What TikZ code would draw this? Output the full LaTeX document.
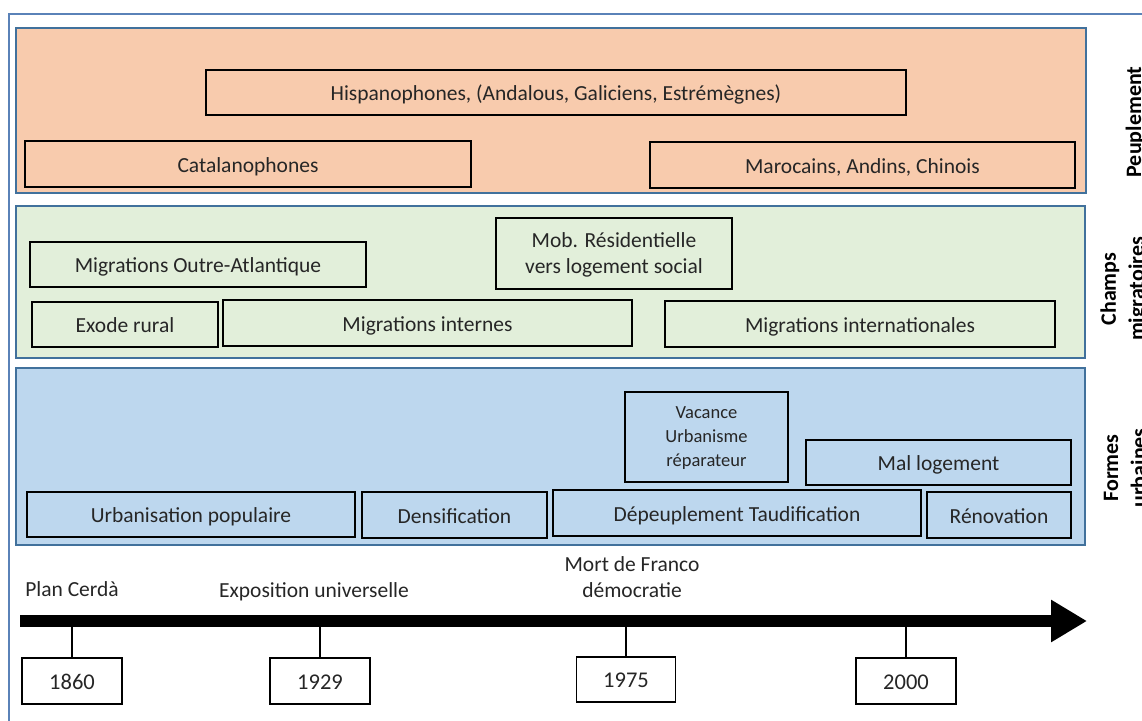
\documentclass[tikz,border=0pt]{standalone}
\usepackage{fontspec}
\setmainfont{Carlito}
\usepackage{xcolor}
\usetikzlibrary{arrows.meta}
\definecolor{peupfill}{HTML}{F8CBAD}
\definecolor{migrfill}{HTML}{E2EFDA}
\definecolor{formfill}{HTML}{BDD7EE}
\definecolor{bandline}{HTML}{41719C}
\definecolor{frameline}{HTML}{5A82B8}
\definecolor{txt}{HTML}{262626}
\begin{document}
\begin{tikzpicture}[x=1pt,y=-1pt,font=\fontsize{21.5}{26}\selectfont,text=txt,
    band/.style={draw=bandline,line width=2.5pt,rectangle,inner sep=0pt},
    tallbox/.style={draw=black,line width=1.8pt,rectangle,inner sep=0pt,align=center,text depth=0pt},
    box/.style={tallbox,text height=18pt,text depth=2pt},
    year/.style={box,fill=white,minimum width=100,minimum height=46,font=\fontsize{22.5}{26}\selectfont},
    side/.style={rotate=90,font=\fontsize{22}{28}\selectfont\bfseries,text=black,align=center}]
            \useasboundingbox (0,0) rectangle (1142,720);
            \fill[white] (0,0) rectangle (1142,720);
            \draw[frameline,line width=2pt] (9,14) rectangle (1170,760);
            \node (peup) at (551,110.5) [band,fill=peupfill,minimum width=1070,minimum height=165] {};
            \node (migr) at (550.5,282) [band,fill=migrfill,minimum width=1069,minimum height=152] {};
            \node (form) at (550.5,456.5) [band,fill=formfill,minimum width=1069,minimum height=177] {};
            \node (hisp) at (556,92.5) [box,minimum width=700,minimum height=45] {Hispanophones, (Andalous, Galiciens, Estrémègnes)};
            \node (catal) at (248,164) [box,minimum width=446,minimum height=46] {Catalanophones};
            \node (maroc) at (862.5,165) [box,minimum width=425,minimum height=46] {Marocains, Andins, Chinois};
            \node (outre) at (198,264.5) [box,minimum width=336,minimum height=45] {Migrations Outre-Atlantique};
            \node (mob) at (614,253.5) [tallbox,minimum width=236,minimum height=71] {Mob. Résidentielle\\vers logement social};
            \node (exode) at (125,324.5) [box,minimum width=186,minimum height=45] {Exode rural};
            \node (internes) at (427.5,323) [box,minimum width=409,minimum height=46] {Migrations internes};
            \node (internat) at (860,324) [box,minimum width=390,minimum height=46] {Migrations internationales};
            \node (vacance) at (706.5,437) [tallbox,minimum width=163,minimum height=90,font=\fontsize{18.5}{24}\selectfont] {Vacance\\Urbanisme\\réparateur};
            \node (mal) at (938.5,462.5) [box,minimum width=265,minimum height=45] {Mal logement};
            \node (urbpop) at (191,514.5) [box,minimum width=328,minimum height=45] {Urbanisation populaire};
            \node (dens) at (454.5,515) [box,minimum width=185,minimum height=46] {Densification};
            \node (depeup) at (737,513) [box,minimum width=368,minimum height=46] {Dépeuplement Taudification};
            \node (renov) at (999,515) [box,minimum width=144,minimum height=46] {Rénovation};
            \node (lpeup) at (1141,122) [side,anchor=base] {Peuplement};
            \node (lmigr) at (1124,289) [side] {Champs\\migratoires};
            \node (lform) at (1125,468) [side] {Formes\\urbaines};
            \coordinate (tstart) at (20,621);
            \coordinate (tend) at (1087,621);
            \draw[line width=12pt,-{Triangle[length=36pt,width=40pt]}] (tstart) -- (tend);
            \node (y1860) at (72,681) [year] {1860};
            \node (y1929) at (320,681) [year] {1929};
            \node (y1975) at (626,679.5) [year,minimum width=99,minimum height=45] {1975};
            \node (y2000) at (906,681) [year] {2000};
            \draw[line width=1.8pt] (y1860.north) -- (y1860.north |- tstart);
            \draw[line width=1.8pt] (y1929.north) -- (y1929.north |- tstart);
            \draw[line width=1.8pt] (y1975.north) -- (y1975.north |- tstart);
            \draw[line width=1.8pt] (y2000.north) -- (y2000.north |- tstart);
            \node (cerda) at (72,589) {Plan Cerdà};
            \node (expo) at (314,592) {Exposition universelle};
            \node (franco) at (632,577) [align=center] {Mort de Franco\\démocratie};
\end{tikzpicture}
\end{document}
